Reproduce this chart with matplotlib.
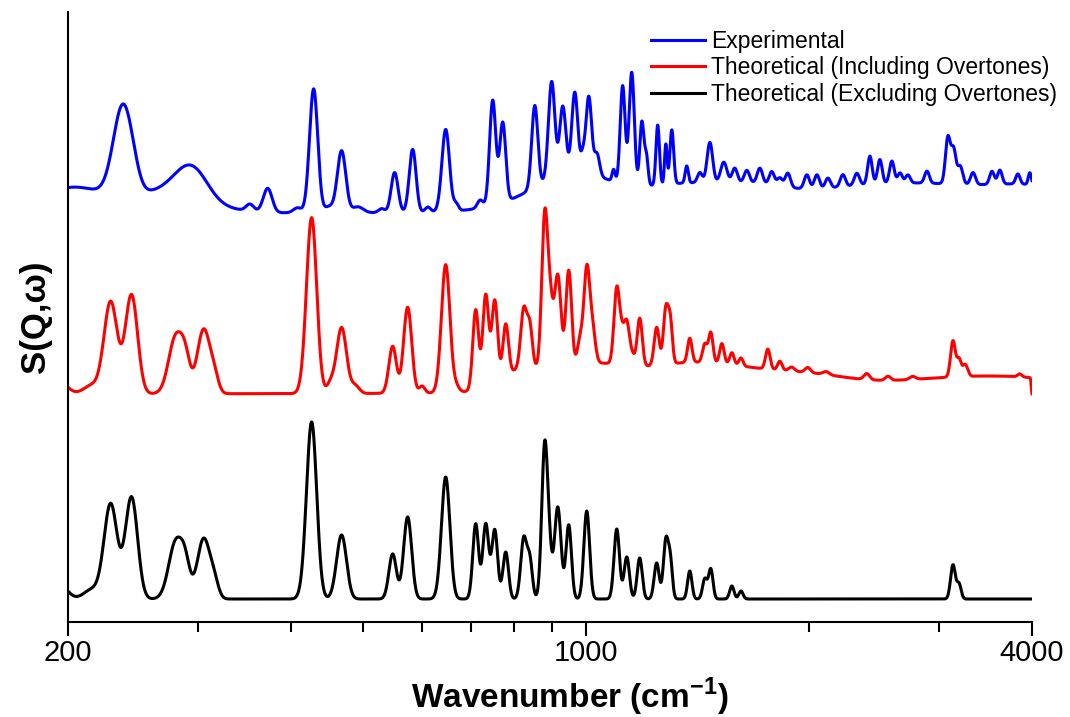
import numpy as np
import matplotlib
matplotlib.use("Agg")
import matplotlib.pyplot as plt
from matplotlib import font_manager
from matplotlib.ticker import FixedLocator, FixedFormatter, NullFormatter

# ---------------------------------------------------------------------
# Data: peaks as (centre cm-1, height, fwhm cm-1)
# heights are in the plot's arbitrary S(Q,w) units
# ---------------------------------------------------------------------

blue_offset = 409
red_offset = 228
black_offset = 23

black_peaks = [
    (196, 12, 10), (215, 9, 12), (228.3, 95, 11), (243.6, 102, 11),
    (279.4, 56, 14), (288, 30, 10), (304.8, 60, 14), (315, 16, 10),
    (426.4, 177, 16), (468, 64, 17), (548.5, 45, 15), (574.7, 82, 17),
    (646.8, 122, 20), (710, 75, 15), (732.5, 75, 16), (753.3, 69, 16),
    (779.4, 47, 16), (824.3, 60, 18), (840, 38, 16), (879.9, 153, 19),
    (893, 35, 16), (916.2, 92, 22), (948, 74, 19), (1002.6, 88, 21),
    (1100.6, 70, 22), (1135.4, 42, 22), (1182, 41, 22), (1246, 36, 23),
    (1282, 58, 23), (1300, 36, 20), (1381, 28, 22), (1447, 20, 24),
    (1474, 30, 24), (1574, 13, 25), (1619, 8, 25), (3129, 34, 55),
    (3188, 15, 50),
]

red_peaks = [
    (196, 10, 10), (215, 8, 12), (228.3, 92, 11), (243.6, 99, 11),
    (279.4, 56, 14), (288, 30, 10), (304.8, 64, 14), (315, 16, 10),
    (426.4, 176, 16), (452, 9, 12), (468, 66, 17), (488, 8, 15),
    (548.5, 47, 15), (574.7, 86, 17), (601, 7, 12), (646.8, 128, 20),
    (668, 6, 15), (710, 80, 15), (732.5, 92, 16), (753.3, 82, 16),
    (779.4, 52, 16), (824.3, 58, 18), (840, 40, 16), (879.9, 152, 19),
    (895, 60, 18), (916.2, 95, 22), (948, 98, 20), (982, 25, 20),
    (1002.6, 92, 21), (1020, 35, 22), (1100.6, 75, 22), (1118, 25, 20),
    (1135.4, 42, 22), (1155, 10, 20), (1182, 48, 22), (1246, 38, 23),
    (1282, 55, 23), (1300, 40, 20), (1381, 24, 22), (1447, 18, 24),
    (1474, 30, 24), (1526, 20, 25), (1574, 12, 25), (1619, 8, 25),
    (1760, 20, 30), (1827, 9, 30), (1895, 4, 40), (1993, 5, 40),
    (2110, 3, 50), (2394, 6, 50), (2557, 4, 50), (2760, 3, 60),
    (3129, 36, 55), (3188, 17, 50), (3250, 12, 60), (3850, 3, 60),
    (4000, -16, 20),
]
# overtone / combination continuum under the red curve
red_background = [
    (820, 18, 120), (1000, 18, 250), (1350, 26, 600), (1900, 14, 700),
    (3500, 18, 2600),
]

blue_peaks = [
    (236.9, 87, 16), (245, 10, 12), (293, 33, 35), (352, 7, 10),
    (372, 24, 12), (408, 5, 12), (429.1, 124, 13), (450, 6, 15),
    (468, 62, 14.5), (492, 6, 20), (530, 4, 12), (551.9, 40, 14),
    (583.7, 63, 14.5), (612, 5, 12), (646.8, 82, 18), (668, 7, 12),
    (720, 8, 15), (748.5, 105, 17), (772.2, 80, 17), (853, 82, 19),
    (899, 97, 21), (930.6, 68, 21), (966, 80, 21), (990, 15, 15),
    (1009, 77, 21), (1035, 22, 20), (1090, 12, 12), (1121, 98, 20),
    (1153, 113, 22), (1190, 64, 18), (1207, 28, 15), (1250, 60, 16),
    (1282, 40, 12), (1306, 54, 18), (1368, 17, 16), (1425, 10, 25),
    (1470, 40, 30), (1535, 20, 35), (1588, 14, 30), (1649, 12, 31),
    (1717, 15, 33), (1782, 13, 34), (1827, 8, 34), (1873, 14, 36),
    (1987, 14, 38), (2050, 14, 39), (2121, 10, 40), (2222, 12, 42),
    (2321, 12, 44), (2417, 28, 40), (2493, 24, 42), (2588, 22, 44),
    (2654, 10, 45), (2720, 8, 46), (2886, 12, 50), (3080, 46, 55),
    (3135, 34, 55), (3200, 18, 60), (3330, 12, 60), (3532, 13, 60),
    (3620, 14, 60), (3828, 10, 60), (3973, 12, 45),
]
blue_background = [
    (200, 18, 40), (260, 20, 100), (950, 30, 250), (1300, 24, 600),
    (1700, 10, 400), (2200, 20, 1200), (3000, 20, 1200), (4000, 25, 1200),
]

labels = ["Experimental",
          "Theoretical (Including Overtones)",
          "Theoretical (Excluding Overtones)"]

major_ticks = [200, 1000, 4000]
minor_ticks = [300, 400, 500, 600, 700, 800, 900, 2000, 3000]


# ---------------------------------------------------------------------
# Helpers
# ---------------------------------------------------------------------

def spectrum(wn, peaks):
    y = np.zeros_like(wn)
    for c, a, w in peaks:
        s = w / 2.3548
        y += a * np.exp(-0.5 * ((wn - c) / s) ** 2)
    return y


def pick_font(*names):
    have = {f.name for f in font_manager.fontManager.ttflist}
    for n in names:
        if n in have:
            return n
    return "DejaVu Sans"


narrow = pick_font("Liberation Sans Narrow", "Liberation Sans", "Arial")
regular = pick_font("Liberation Sans", "Arial")

plt.rcParams["mathtext.fontset"] = "custom"
plt.rcParams["mathtext.rm"] = narrow
plt.rcParams["mathtext.bf"] = narrow + ":bold"

wn = np.geomspace(200, 4000, 4000)
blue = blue_offset + spectrum(wn, blue_peaks) + spectrum(wn, blue_background)
red = red_offset + spectrum(wn, red_peaks) + spectrum(wn, red_background)
black = black_offset + spectrum(wn, black_peaks)

# ---------------------------------------------------------------------
# Plot
# ---------------------------------------------------------------------

fig = plt.figure(figsize=(10.7, 7.17), dpi=100)
ax = fig.add_axes([68 / 1070, 95 / 717, 964 / 1070, 610 / 717])

ax.plot(wn, blue, color="#0000ff", lw=2.2, label=labels[0])
ax.plot(wn, red, color="#ff0000", lw=2.2, label=labels[1])
ax.plot(wn, black, color="black", lw=2.2, label=labels[2])

ax.set_xscale("log")
ax.set_xlim(200, 4000)
ax.set_ylim(0, 610)

ax.xaxis.set_major_locator(FixedLocator(major_ticks))
ax.xaxis.set_major_formatter(FixedFormatter([str(t) for t in major_ticks]))
ax.xaxis.set_minor_locator(FixedLocator(minor_ticks))
ax.xaxis.set_minor_formatter(NullFormatter())
ax.tick_params(axis="x", which="major", direction="out", length=10, width=1.5,
               pad=2.5, labelsize=21)
ax.tick_params(axis="x", which="minor", direction="out", length=7, width=1.5)
ax.set_yticks([])
for lbl in ax.get_xticklabels():
    lbl.set_fontfamily(narrow)

for side in ("top", "right"):
    ax.spines[side].set_visible(False)
for side in ("left", "bottom"):
    ax.spines[side].set_linewidth(1.5)

ax.set_xlabel(r"Wavenumber (cm$^{\mathbf{-1}}$)", fontsize=24,
              fontweight="bold", fontfamily=narrow)
ax.xaxis.set_label_coords(0.52, -0.088)
ax.set_ylabel("S(Q,\u03c9)", fontsize=25, fontweight="bold",
              fontfamily=regular)
ax.yaxis.set_label_coords(-0.017, 0.5)

ax.legend(loc="upper left", bbox_to_anchor=(0.605, 0.971), frameon=False,
          borderpad=0, borderaxespad=0, handlelength=2.33, handletextpad=0.3,
          labelspacing=0.15, prop={"family": regular, "size": 16.5})

fig.savefig("out.png", dpi=100)
